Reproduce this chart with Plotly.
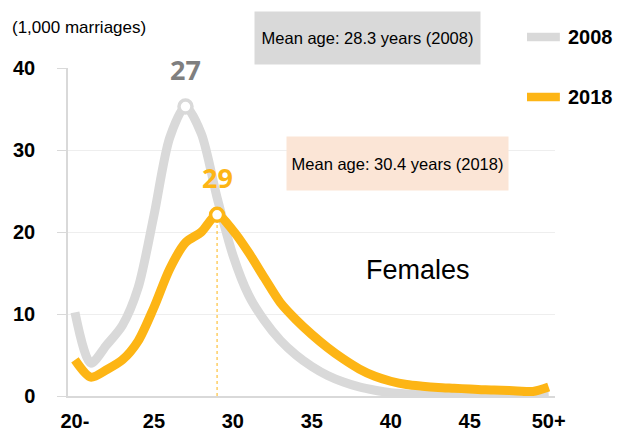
import plotly.graph_objects as go

ages = list(range(20, 51))
tick_vals = [20, 25, 30, 35, 40, 45, 50]
tick_text = ["20-", "25", "30", "35", "40", "45", "50+"]

marriages_2008 = [10.2, 4.0, 6.2, 8.6, 13.2, 22.0, 31.5, 35.3, 32.0, 24.2, 17.2,
                  12.3, 9.2, 6.8, 5.0, 3.6, 2.5, 1.7, 1.1, 0.7, 0.4,
                  0.25, 0.15, 0.1, 0.1, 0.1, 0.1, 0.1, 0.1, 0.1, 0.2]
marriages_2018 = [4.4, 2.3, 3.2, 4.4, 6.7, 10.8, 15.5, 18.7, 20.0, 22.1, 20.2,
                  17.5, 14.4, 11.4, 9.3, 7.5, 5.9, 4.5, 3.3, 2.4, 1.8,
                  1.4, 1.2, 1.05, 0.95, 0.85, 0.75, 0.7, 0.62, 0.55, 1.1]

series = [("2008", marriages_2008, "#d9d9d9", "#7f7f7f"),
          ("2018", marriages_2018, "#fdb515", "#fdb515")]

FONT = "Liberation Sans, Arial, sans-serif"

fig = go.Figure()

for name, vals, color, lab_color in series:
    fig.add_trace(go.Scatter(x=ages, y=vals, mode="lines", name=name,
                             line=dict(color=color, width=9, shape="spline", smoothing=0.8),
                             showlegend=False, hoverinfo="skip"))

# dotted vertical line at 2018 peak
pk18 = max(range(len(ages)), key=lambda i: marriages_2018[i])
fig.add_trace(go.Scatter(x=[ages[pk18], ages[pk18]], y=[0, marriages_2018[pk18]], mode="lines",
                         line=dict(color="#fdb515", width=1, dash="dot"),
                         showlegend=False, hoverinfo="skip"))

for name, vals, color, lab_color in series:
    pk = max(range(len(ages)), key=lambda i: vals[i])
    fig.add_trace(go.Scatter(x=[ages[pk]], y=[vals[pk]], mode="markers",
                             marker=dict(size=13, color="white", line=dict(color=color, width=3.5)),
                             showlegend=False, hoverinfo="skip"))
    fig.add_annotation(x=ages[pk], y=vals[pk], text=f"<b>{ages[pk]}</b>", showarrow=False,
                       yshift=37, font=dict(family="Noto Sans", size=27, color=lab_color))

# legend drawn manually
for (name, vals, color, lab_color), ly in zip(series, [1.0945, 0.9116]):
    fig.add_shape(type="rect", xref="paper", yref="paper", x0=0.9425, x1=1.010,
                  y0=ly - 0.013, y1=ly + 0.013, fillcolor=color, line=dict(width=0))
    fig.add_annotation(xref="paper", yref="paper", x=1.022, y=ly, xanchor="left", yanchor="middle",
                       text=f"<b>{name}</b>", showarrow=False,
                       font=dict(family=FONT, size=20, color="black"))

# mean age boxes
fig.add_annotation(xref="paper", yref="paper", x=0.615, y=1.0915, xanchor="center", yanchor="middle",
                   text="Mean age: 28.3 years (2008)", showarrow=False,
                   bgcolor="#d9d9d9", width=223, height=50,
                   font=dict(family=FONT, size=16.5, color="black"))
fig.add_annotation(xref="paper", yref="paper", x=0.677, y=0.710, xanchor="center", yanchor="middle",
                   text="Mean age: 30.4 years (2018)", showarrow=False,
                   bgcolor="#fbe5d6", width=219, height=51,
                   font=dict(family=FONT, size=16.5, color="black"))

fig.add_annotation(xref="paper", yref="paper", x=-0.119, y=1.125, xanchor="left", yanchor="middle",
                   text="(1,000 marriages)", showarrow=False,
                   font=dict(family=FONT, size=17, color="black"))
fig.add_annotation(xref="paper", yref="paper", x=0.719, y=0.384, xanchor="center", yanchor="middle",
                   text="Females", showarrow=False,
                   font=dict(family=FONT, size=27, color="black"))

fig.update_layout(
    width=621, height=436,
    margin=dict(l=68, r=66, t=68, b=40),
    plot_bgcolor="white", paper_bgcolor="white",
    xaxis=dict(range=[19.56, 50.4], tickvals=tick_vals, ticktext=[f"<b>{t}</b>" for t in tick_text],
               showgrid=False, zeroline=False, showline=True, linecolor="#d9d9d9", linewidth=2,
               ticks="", tickfont=dict(family=FONT, size=20, color="black"),
               ticklabelstandoff=6, automargin=False, fixedrange=True),
    yaxis=dict(range=[0, 40], dtick=10, showgrid=True, gridcolor="#eeeeee", gridwidth=1,
               zeroline=False, showline=True, linecolor="#d9d9d9", linewidth=1.5,
               ticks="outside", ticklen=9, tickcolor="#d9d9d9",
               tickvals=[0, 10, 20, 30, 40], ticktext=["<b>0</b>", "<b>10</b>", "<b>20</b>", "<b>30</b>", "<b>40</b>"],
               tickfont=dict(family=FONT, size=20, color="black"), ticklabelstandoff=18,
               automargin=False, fixedrange=True),
)

fig.write_html("out.html", post_script="document.body.style.margin='0';",
               config={"displayModeBar": False})
